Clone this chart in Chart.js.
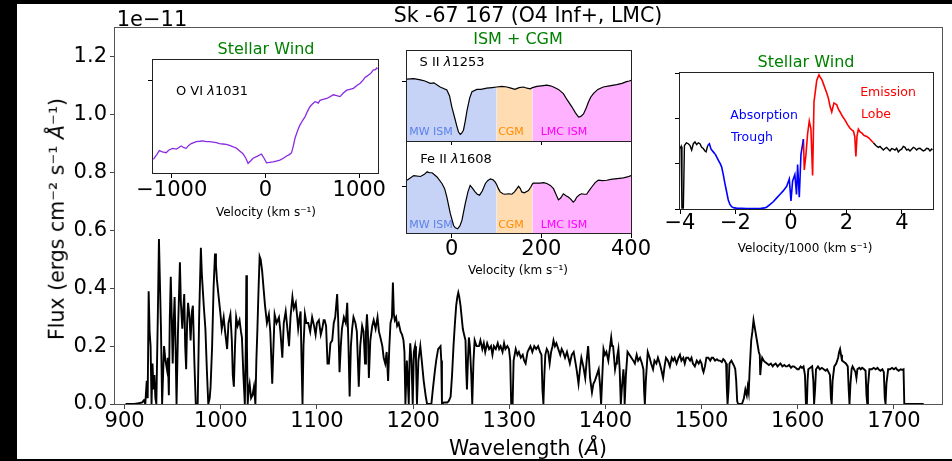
<!DOCTYPE html>
<html lang="en">
<head>
  <meta charset="UTF-8" />
  <title>Sk -67 167 (O4 Inf+, LMC)</title>
  <script src="https://cdn.jsdelivr.net/npm/chart.js"></script>
  <style>
    body { margin: 0; width: 952px; height: 461px; background: #000; overflow: hidden; font-family: "DejaVu Sans", sans-serif; }
    #fig { position: absolute; left: 17px; top: 4px; width: 935px; height: 455px; background: #fff; }
    canvas { position: absolute; }
    .lbl { position: absolute; white-space: nowrap; line-height: 1; transform: translate(-50%, -50%); color: #000; }
    .rot { transform: translate(-50%, -50%) rotate(-90deg); }
    .green { color: #008000; font-size: 16px; }
  </style>
</head>
<body>
  <div id="fig"></div>
  <canvas id="mainChart" width="952" height="461" style="left:0;top:0"></canvas>
  <canvas id="oviChart" width="275" height="170" style="left:125px;top:55px"></canvas>
  <canvas id="siiChart" width="245" height="100" style="left:395px;top:45px"></canvas>
  <canvas id="feiiChart" width="260" height="120" style="left:395px;top:141px"></canvas>
  <canvas id="windChart" width="295" height="170" style="left:655px;top:68px"></canvas>

  <!-- text -->
  <div class="lbl" style="left:528px;top:15px;font-size:20.5px">Sk -67 167 (O4 Inf+, LMC)</div>
  <div class="lbl" style="left:152px;top:19px;font-size:21px">1e&minus;11</div>
  <div class="lbl rot" style="left:57px;top:219px;font-size:20.5px">Flux (ergs cm⁻² s⁻¹ <i>Å</i>⁻¹)</div>
  <div class="lbl" style="left:528px;top:448px;font-size:20.5px">Wavelength (<i>Å</i>)</div>

  <div class="lbl green" style="left:266px;top:49px">Stellar Wind</div>
  <div class="lbl" style="left:212px;top:90px;font-size:13px">O VI <i>λ</i>1031</div>
  <div class="lbl" style="left:266px;top:212px;font-size:12px">Velocity (km s⁻¹)</div>

  <div class="lbl green" style="left:518px;top:39px">ISM + CGM</div>
  <div class="lbl" style="left:452px;top:61px;font-size:13px">S II <i>λ</i>1253</div>
  <div class="lbl" style="left:456px;top:158px;font-size:13px">Fe II <i>λ</i>1608</div>
  <div class="lbl" style="left:431px;top:131px;font-size:11px;color:#5b83e8">MW ISM</div>
  <div class="lbl" style="left:511px;top:131px;font-size:11px;color:#ff8c00">CGM</div>
  <div class="lbl" style="left:564px;top:131px;font-size:11px;color:#ff00ff">LMC ISM</div>
  <div class="lbl" style="left:431px;top:224px;font-size:11px;color:#5b83e8">MW ISM</div>
  <div class="lbl" style="left:511px;top:224px;font-size:11px;color:#ff8c00">CGM</div>
  <div class="lbl" style="left:564px;top:224px;font-size:11px;color:#ff00ff">LMC ISM</div>
  <div class="lbl" style="left:518px;top:270px;font-size:12px">Velocity (km s⁻¹)</div>

  <div class="lbl green" style="left:806px;top:62px">Stellar Wind</div>
  <div class="lbl" style="left:764px;top:115px;font-size:12.5px;color:#0000ff">Absorption</div>
  <div class="lbl" style="left:752px;top:137px;font-size:12.5px;color:#0000ff">Trough</div>
  <div class="lbl" style="left:888px;top:92px;font-size:12.5px;color:#ff0000">Emission</div>
  <div class="lbl" style="left:876px;top:114px;font-size:12.5px;color:#ff0000">Lobe</div>
  <div class="lbl" style="left:805px;top:248px;font-size:12px">Velocity/1000 (km s⁻¹)</div>

  <script>
    // ---- data ----
    // main spectrum: [wavelength (A), flux (1e-11 erg/cm2/s/A)]
    const mainSpectrum = [
      [901,0],[910,0],[915,0.003],[918,0.005],[920,0.013],[921.5,0],[923,0.08],[924,0.02],[925,0.39],[926,0.25],
      [927,0.2],[928,0],[929,0.14],[930,0.05],[931,0.1],[932,0.02],[933,0],[934.5,0.3],[935.7,0.57],[936.5,0.45],
      [937.8,0.26],[939,0],[940,0.1],[941,0.2],[942.5,0.15],[944,0.12],[945,0.16],[946,0.03],[947,0.3],[948,0.44],
      [949,0.3],[950,0.14],[951,0.28],[952,0.37],[953,0.2],[954,0],[955.5,0.25],[957.5,0.49],[958.5,0.35],[960,0.26],
      [961,0.33],[962,0.38],[963,0.2],[964,0.12],[965,0.28],[966,0.35],[967.5,0.3],[968.6,0.22],[970,0.32],[971,0.34],
      [972.5,0.15],[974,0],[976,0],[977.5,0.3],[979.3,0.54],[980.3,0.45],[981.4,0.39],[982.5,0.33],[984,0.26],[985.5,0.12],
      [987,0],[988.5,0.02],[989.4,0.06],[991,0.2],[992.5,0.4],[994,0.52],[995,0.48],[996,0.43],[997.5,0.38],[999.7,0.31],
      [1001,0.26],[1003,0.3],[1004.5,0.25],[1006.6,0.19],[1008,0.28],[1010,0.31],[1011.5,0.22],[1012.5,0.1],[1013.6,0.06],[1014.8,0.2],
      [1016,0.3],[1017.5,0.27],[1019.5,0.29],[1021,0.25],[1022,0.23],[1023.5,0.1],[1025,0],[1026,0.2],[1026.6,0.445],[1027.2,0.2],
      [1028,0],[1029,0.05],[1030,0.07],[1031.5,0.02],[1033,0.03],[1034.5,0.06],[1036,0],[1037,0.15],[1038,0.25],[1039.3,0.4],
      [1040.4,0.51],[1041.5,0.5],[1043,0.46],[1044.5,0.4],[1046,0.34],[1048,0.28],[1050,0.31],[1051.5,0.25],[1053.5,0.07],[1054.8,0.2],
      [1056,0.31],[1058,0.28],[1060.5,0.3],[1062,0.25],[1064,0.16],[1065.5,0.28],[1067.5,0.32],[1069,0.27],[1071,0.2],[1072.5,0.3],
      [1074.5,0.37],[1076,0.33],[1078,0.35],[1079.5,0.3],[1080.5,0.26],[1082,0.3],[1083,0.32],[1084,0.15],[1085,0],[1086,0.2],
      [1087.5,0.31],[1089,0.28],[1091,0.28],[1093,0.25],[1095,0.3],[1097,0.27],[1098.6,0.24],[1100,0.28],[1102,0.29],[1104,0.24],
      [1105.5,0.26],[1107,0.29],[1108,0.29],[1109.5,0.27],[1111,0.14],[1112.4,0.14],[1114,0.21],[1115.9,0.22],[1117.5,0.28],[1119,0.3],
      [1121,0.38],[1122,0.3],[1123.5,0.11],[1124.8,0.2],[1126,0.26],[1128,0.3],[1130,0.28],[1131.5,0.35],[1132.8,0.2],[1134,0.026],
      [1135.3,0.2],[1136.6,0.26],[1138,0.3],[1140,0.28],[1141.5,0.25],[1143.5,0.06],[1145,0.2],[1147,0.27],[1148.5,0.25],[1150,0.14],
      [1151,0.25],[1152,0.31],[1153,0.25],[1154,0.09],[1155.5,0.22],[1157.5,0.27],[1159,0.29],[1161,0.26],[1163,0.3],[1164.5,0.25],
      [1166,0.23],[1168,0.2],[1169.4,0.16],[1171,0.14],[1172.5,0.18],[1174,0.08],[1175.3,0.2],[1176.5,0.28],[1178,0.3],[1179,0.42],
      [1180,0.31],[1181,0.29],[1182.3,0.3],[1183.4,0.27],[1185,0.28],[1187,0.25],[1188.5,0.24],[1190,0.22],[1191,0.18],[1192,0],
      [1193.5,0.15],[1194.5,0.08],[1195.5,0],[1196.3,0.15],[1197,0.21],[1198.3,0.15],[1199.6,0],[1200.8,0.18],[1202,0.2],[1203,0.15],
      [1204,0],[1205.5,0.15],[1207.5,0.2],[1209,0.15],[1211,0.08],[1213,0.03],[1214.5,0],[1219,0],[1220.5,0.05],[1222.5,0.11],
      [1224,0.15],[1226,0.19],[1228.5,0.2],[1229.3,0.15],[1230,0],[1232,0.005],[1235.5,0.005],[1237,0.01],[1239,0.025],[1240.5,0.1],
      [1242,0.2],[1243.5,0.28],[1244.8,0.34],[1246,0.37],[1247,0.385],[1248,0.37],[1249.3,0.34],[1250.5,0.3],[1251.7,0.26],[1253,0.24],
      [1254.5,0.22],[1255.2,0.12],[1256,0.05],[1257,0.15],[1258,0.23],[1259,0.2],[1260.5,0.1],[1261.5,0],[1262.8,0.15],[1264,0.22],
      [1266,0.2],[1268.5,0.2],[1270,0.22],[1272,0.19],[1273.5,0.21],[1275,0.18],[1277,0.21],[1279,0.19],[1281,0.2],[1282.5,0.17],
      [1284,0.2],[1286,0.19],[1288,0.21],[1289.5,0.19],[1291,0.2],[1293,0.18],[1294.6,0.21],[1296,0.19],[1298,0.2],[1299.7,0.19],
      [1301,0.15],[1302,0],[1303.5,0],[1304.5,0.15],[1306.7,0.19],[1308.5,0.17],[1310,0.18],[1312,0.16],[1314,0.17],[1315.5,0.15],
      [1317,0.14],[1319,0.18],[1320.5,0.19],[1322,0.2],[1324,0.18],[1326,0.2],[1328,0.19],[1330,0.2],[1332,0.18],[1333.5,0.17],
      [1334.5,0.05],[1335.5,0],[1336.5,0.1],[1337.5,0.17],[1339,0.19],[1340.5,0.18],[1342,0.14],[1343.5,0.18],[1345,0.2],[1346,0.22],
      [1347.5,0.2],[1349,0.21],[1351,0.19],[1353,0.17],[1354.5,0.19],[1356,0.18],[1358,0.16],[1360,0.18],[1361.5,0.16],[1363,0.14],
      [1365,0.17],[1367,0.18],[1368.5,0.15],[1370,0.12],[1372,0.07],[1373.5,0.12],[1375,0.16],[1377,0.13],[1379,0.09],[1380.5,0.15],
      [1382,0.2],[1383,0.15],[1384,0.09],[1386,0.04],[1387.5,0.07],[1389,0.08],[1391,0.1],[1393,0.12],[1394.5,0.06],[1395.5,0],
      [1396.8,0.1],[1398,0.19],[1399.5,0.17],[1401,0.18],[1403,0.15],[1404.5,0.19],[1406,0.23],[1407,0.2],[1408,0.2],[1409,0.16],
      [1410,0.12],[1411,0.14],[1412,0.16],[1413.5,0.19],[1414.8,0.12],[1416,0],[1417,0.05],[1418.7,0.12],[1419.4,0.08],[1420,0],
      [1421.3,0.1],[1423,0.18],[1425,0.17],[1427,0.16],[1429,0.15],[1430.6,0.14],[1432.5,0.17],[1434,0.15],[1436,0.16],[1438,0.14],
      [1439.5,0.12],[1440.3,0.04],[1441,0],[1442,0.08],[1444,0.18],[1446,0.16],[1447.5,0.14],[1449.5,0.12],[1451,0.15],[1453,0.14],
      [1454.6,0.16],[1456.5,0.14],[1458,0.12],[1460,0.09],[1461.5,0.13],[1463,0.16],[1465,0.15],[1467,0.13],[1469,0.16],[1470.5,0.15],
      [1472,0.16],[1474,0.14],[1476,0.16],[1477.5,0.17],[1479,0.15],[1481,0.16],[1482.5,0.14],[1484,0.16],[1486,0.16],[1488,0.15],
      [1489.5,0.16],[1491,0.14],[1493,0.13],[1495,0.15],[1497,0.14],[1498.5,0.15],[1500,0.14],[1501,0.12],[1502,0.11],[1503.5,0.13],
      [1505,0.16],[1507,0.16],[1509,0.15],[1510.5,0.16],[1512,0.16],[1514,0.15],[1516,0.155],[1517.5,0.15],[1519,0.15],[1521,0.145],
      [1522.5,0.155],[1524,0.15],[1525.5,0.14],[1526.3,0.05],[1527,0],[1528,0.05],[1529,0.14],[1531,0.15],[1532.5,0.14],[1534,0.13],
      [1535,0.12],[1536,0.08],[1537,0.01],[1538,0],[1542,0],[1544,0.02],[1545.5,0.05],[1547,0.03],[1548,0.06],[1549,0.04],
      [1550,0.12],[1551.6,0.22],[1552.8,0.25],[1554,0.29],[1555,0.27],[1556,0.25],[1557,0.23],[1558,0.21],[1559.5,0.18],[1560.5,0.17],
      [1561,0.1],[1562,0.14],[1563,0.16],[1564.6,0.15],[1566,0.145],[1568,0.14],[1570,0.135],[1572,0.14],[1574,0.13],[1575,0.135],
      [1577,0.14],[1579,0.13],[1580.5,0.135],[1582,0.14],[1584,0.13],[1586,0.135],[1587.5,0.13],[1589,0.13],[1591,0.135],[1593,0.125],
      [1594.5,0.13],[1596,0.13],[1598,0.125],[1599.5,0.12],[1601,0.12],[1603,0.13],[1604.5,0.125],[1606,0.13],[1607.5,0.1],[1608.5,0],
      [1609.5,0],[1610.2,0.08],[1611,0.12],[1613,0.125],[1615,0.13],[1616.2,0.08],[1617,0],[1618,0.05],[1619,0.12],[1621,0.13],
      [1623,0.12],[1625,0.125],[1627,0.12],[1629,0.115],[1630.5,0.12],[1632,0.11],[1633.5,0.1],[1634.5,0.02],[1635.3,0],[1636.2,0.08],
      [1638,0.13],[1640,0.14],[1642,0.16],[1643,0.18],[1644,0.19],[1645,0.17],[1646,0.15],[1648,0.145],[1650,0.14],[1652,0.13],
      [1653,0.05],[1653.8,0],[1654.8,0.07],[1656,0.12],[1657,0.13],[1658.5,0.12],[1660,0.11],[1661,0.09],[1662,0.12],[1664,0.125],
      [1665.5,0.12],[1667,0.125],[1669,0.12],[1670.5,0.115],[1671.5,0.03],[1672.3,0],[1673,0.06],[1674.5,0.12],[1677,0.12],[1679,0.125],
      [1681,0.12],[1683,0.125],[1684,0.12],[1686,0.115],[1688,0.12],[1689.5,0.11],[1690.5,0.02],[1691.3,0],[1692.2,0.07],[1694,0.12],
      [1696,0.12],[1698,0.125],[1700,0.12],[1702,0.125],[1703,0.12],[1705,0.115],[1707,0.12],[1709,0.118],[1710,0.12],[1710.8,0],
      [1711.5,0],[1720,0],[1731,0]
    ];
    const mainXTicks = [900, 1000, 1100, 1200, 1300, 1400, 1500, 1600, 1700];
    const mainYTicks = [0, 0.2, 0.4, 0.6, 0.8, 1.0, 1.2];

    // O VI 1031 profile: [velocity km/s, flux]
    const oviProfile = [
      [-1196,0.149],[-1160,0.2],[-1132,0.243],[-1100,0.23],[-1060,0.22],[-1030,0.25],[-989,0.268],[-950,0.26],[-920,0.28],[-899,0.293],
      [-870,0.275],[-846,0.268],[-820,0.3],[-792,0.32],[-765,0.33],[-739,0.34],[-700,0.345],[-668,0.35],[-630,0.34],[-596,0.34],
      [-560,0.335],[-525,0.33],[-490,0.32],[-454,0.315],[-420,0.31],[-382,0.3],[-345,0.285],[-311,0.27],[-275,0.24],[-240,0.21],
      [-210,0.16],[-186,0.105],[-160,0.13],[-133,0.16],[-90,0.18],[-43,0.206],[-15,0.16],[11,0.11],[45,0.115],[81,0.12],
      [115,0.13],[153,0.14],[190,0.16],[225,0.185],[255,0.2],[278,0.22],[296,0.29],[315,0.38],[332,0.43],[350,0.48],
      [367,0.52],[395,0.57],[421,0.61],[448,0.67],[474,0.72],[500,0.75],[528,0.775],[545,0.77],[563,0.76],[581,0.79],
      [615,0.8],[653,0.81],[690,0.83],[724,0.85],[760,0.84],[795,0.83],[830,0.87],[867,0.9],[900,0.91],[938,0.92],
      [975,0.95],[1010,0.975],[1040,1.01],[1063,1.04],[1080,1.05],[1099,1.065],[1120,1.08],[1135,1.1],[1150,1.12],[1170,1.12],
      [1185,1.14],[1195,1.13]
    ];
    const oviTicks = [-1000, 0, 1000];

    // ISM + CGM normalised profiles: [velocity km/s, flux]
    const siiProfile = [
      [-100,1.03],[-85,1.04],[-70,1.02],[-60,1.0],[-48,0.96],[-40,0.97],[-26,0.9],[-11,0.85],[-5,0.75],[0,0.57],
      [6,0.4],[11.5,0.24],[15,0.15],[19,0.11],[22,0.13],[26,0.18],[30,0.33],[34,0.51],[40,0.72],[45,0.82],
      [56,0.86],[65,0.86],[78,0.88],[90,0.89],[100,0.9],[112,0.91],[123,0.9],[132,0.88],[141,0.86],[150,0.89],
      [160,0.9],[168,0.88],[175,0.87],[180,0.89],[190,0.91],[200,0.92],[212,0.93],[220,0.92],[227,0.9],[238,0.86],
      [249,0.79],[258,0.68],[268,0.57],[276,0.47],[283,0.4],[288,0.41],[294,0.45],[300,0.55],[305,0.65],[310,0.73],
      [316,0.79],[326,0.86],[338,0.9],[352,0.92],[368,0.94],[380,0.96],[390,0.99],[396,1.0],[400,1.01]
    ];
    const feiiProfile = [
      [-100,1.13],[-85,1.23],[-70,1.21],[-62,1.25],[-55,1.31],[-50,1.29],[-44,1.29],[-33,1.2],[-22,1.06],[-16,0.95],
      [-11,0.77],[-3.4,0.42],[4,0.16],[8,0.11],[13,0.09],[18,0.15],[22.6,0.27],[30,0.63],[36,0.88],[41,1.02],
      [46,0.96],[52,0.88],[57,0.83],[62,0.81],[68,0.9],[75,1.06],[80,1.12],[86,1.16],[92,1.14],[97,1.09],
      [100,1.04],[104,0.95],[108,0.88],[114,0.84],[119,0.83],[127,0.84],[134,0.83],[140,0.88],[149,1.0],[153,0.95],
      [156,0.88],[162,0.86],[171,0.91],[176,0.98],[180,1.05],[182,1.07],[190,1.07],[197,1.07],[205,1.08],[212,1.06],
      [220,1.02],[227,0.95],[233,0.82],[238,0.71],[243,0.75],[249,0.84],[255,0.8],[260,0.77],[266,0.72],[271,0.66],
      [275,0.7],[279,0.77],[285,0.82],[290,0.84],[296,0.83],[301,0.83],[306,0.9],[312,0.98],[320,1.08],[327,1.13],
      [336,1.12],[346,1.13],[355,1.15],[364,1.16],[374,1.17],[383,1.18],[392,1.2],[400,1.23]
    ];
    const ismBounds = [[-100, 100], [100, 180], [180, 400]];   // MW ISM, CGM, LMC ISM
    const ismTicks = [0, 200, 400];

    // C IV wind profile: [velocity/1000 km/s, flux]
    const windBlackLeft = [
      [-4.0,0.667],[-3.96,0.69],[-3.93,0.01],[-3.88,0.01],[-3.84,0.7],[-3.77,0.73],[-3.7,0.72],[-3.64,0.7],[-3.58,0.65],[-3.52,0.72],
      [-3.46,0.74],[-3.4,0.71],[-3.34,0.73],[-3.28,0.72],[-3.22,0.68],[-3.16,0.667],[-3.1,0.64],[-3.06,0.63],[-3.0,0.7]
    ];
    const windBlue = [
      [-3.0,0.7],[-2.94,0.72],[-2.88,0.66],[-2.8,0.63],[-2.72,0.6],[-2.62,0.54],[-2.55,0.5],[-2.5,0.465],[-2.44,0.38],[-2.38,0.28],
      [-2.32,0.19],[-2.26,0.1],[-2.2,0.05],[-2.14,0.025],[-2.05,0.012],[-1.96,0.01],[-1.6,0.005],[-1.12,0.005],[-0.95,0.012],[-0.88,0.02],
      [-0.75,0.05],[-0.64,0.08],[-0.52,0.12],[-0.4,0.16],[-0.28,0.2],[-0.155,0.25],[-0.06,0.33],[0.0,0.09],[0.06,0.31],[0.14,0.38],
      [0.2,0.16],[0.24,0.49],[0.3,0.13],[0.36,0.6],[0.45,0.77]
    ];
    const windRed = [
      [0.45,0.77],[0.48,0.43],[0.54,0.6],[0.6,0.83],[0.66,0.97],[0.72,0.88],[0.78,0.37],[0.83,1.18],[0.88,1.3],[0.93,1.42],
      [1.01,1.48],[1.06,1.45],[1.11,1.43],[1.17,1.38],[1.23,1.33],[1.29,1.28],[1.35,1.22],[1.41,1.13],[1.47,1.07],[1.55,1.17],
      [1.6,1.16],[1.65,1.15],[1.71,1.1],[1.77,1.07],[1.86,1.02],[1.95,0.98],[2.04,0.93],[2.13,0.89],[2.2,0.87],[2.25,0.86],
      [2.3,0.8],[2.34,0.58],[2.38,0.8],[2.43,0.88],[2.49,0.85],[2.55,0.84],[2.64,0.81],[2.73,0.8],[2.82,0.78],[2.91,0.75],
      [2.97,0.73]
    ];
    const windBlackRight = [
      [2.97,0.73],[3.06,0.7],[3.15,0.68],[3.21,0.69],[3.27,0.67],[3.33,0.65],[3.39,0.667],[3.45,0.68],[3.51,0.66],[3.57,0.64],
      [3.63,0.667],[3.69,0.66],[3.75,0.65],[3.81,0.67],[3.87,0.63],[3.93,0.65],[3.99,0.66],[4.05,0.69],[4.11,0.68],[4.17,0.65],
      [4.23,0.66],[4.29,0.64],[4.35,0.66],[4.41,0.68],[4.47,0.67],[4.53,0.65],[4.59,0.667],[4.65,0.67],[4.71,0.655],[4.77,0.64],
      [4.83,0.65],[4.89,0.67],[4.95,0.665],[5.01,0.64],[5.07,0.66],[5.1,0.65]
    ];
    const windXTicks = [-4, -2, 0, 2, 4];
    const windYTicks = [0, 0.5, 1.0, 1.5];

    // ---- helpers ----
    Chart.defaults.font.family = '"DejaVu Sans", sans-serif';
    Chart.defaults.color = '#000';

    const toXY = p => ({ x: p[0], y: p[1] });
    const minus = v => String(v).replace('-', '\u2212');

    // draws the four spines round the plot area
    const frame = {
      id: 'frame',
      afterDatasetsDraw(chart, args, opts) {
        const a = chart.chartArea, c = chart.ctx;
        const l = Math.round(a.left) - 0.5, t = Math.round(a.top) - 0.5;
        const r = Math.round(a.right) + 0.5, b = Math.round(a.bottom) + 0.5;
        c.save();
        c.strokeStyle = opts.color || '#000';
        c.lineWidth = 1;
        c.strokeRect(l, t, r - l, b - t);
        c.restore();
      }
    };

    function axis(o) {
      return {
        type: 'linear', min: o.min, max: o.max,
        afterBuildTicks: s => { s.ticks = o.ticks.map(v => ({ value: v })); },
        afterFit: s => { if (s.isHorizontal()) s.height = o.size; else s.width = o.size; },
        border: { display: false },
        grid: { drawOnChartArea: false, drawTicks: true, tickLength: 5, color: o.color || '#000' },
        ticks: {
          display: o.labels !== false, autoSkip: false, maxRotation: 0, padding: o.pad || 0,
          font: { size: 21 }, color: '#000', callback: o.fmt || minus
        }
      };
    }

    function line(points, color, width) {
      return { data: points.map(toXY), borderColor: color, borderWidth: width, pointRadius: 0, fill: false, tension: 0 };
    }

    function makeChart(id, datasets, x, y, padding, frameColor) {
      return new Chart(document.getElementById(id), {
        type: 'line',
        data: { datasets },
        options: {
          responsive: false, animation: false, devicePixelRatio: 1,
          layout: { padding },
          plugins: { legend: { display: false }, tooltip: { enabled: false }, frame: { color: frameColor } },
          scales: { x: axis(x), y: axis(y) }
        },
        plugins: [frame]
      });
    }

    // ---- main spectrum ----
    makeChart('mainChart',
      [line(mainSpectrum, '#000', 1.9)],
      { min: 890, max: 1750, ticks: mainXTicks, size: 57, color: '#444' },
      { min: 0, max: 1.3, ticks: mainYTicks, size: 115, pad: 3, color: '#444', fmt: v => v.toFixed(1) },
      { left: 0, top: 28, right: 10, bottom: 0 }, '#555');

    // ---- O VI inset ----
    makeChart('oviChart',
      [line(oviProfile, '#8a2be2', 1.3)],
      { min: -1200, max: 1200, ticks: oviTicks, size: 52 },
      { min: 0, max: 1.228, ticks: [1.0], size: 0, labels: false },
      { left: 28, top: 5, right: 22, bottom: 0 }, '#222');

    // ---- ISM + CGM insets ----
    const ismFills = ['rgba(65,105,225,0.3)', 'rgba(255,140,0,0.3)', 'rgba(255,0,255,0.3)'];
    function ismSets(profile) {
      const regions = ismBounds.map((b, i) => ({
        data: profile.filter(p => p[0] >= b[0] && p[0] <= b[1]).map(toXY),
        backgroundColor: ismFills[i], borderWidth: 0, pointRadius: 0, fill: 'origin', tension: 0
      }));
      return [line(profile, '#000', 1.2)].concat(regions);
    }
    makeChart('siiChart', ismSets(siiProfile),
      { min: -100, max: 400, ticks: ismTicks, size: 4, labels: false },
      { min: 0, max: 1.5, ticks: [1.0], size: 0, labels: false },
      { left: 12, top: 6, right: 9, bottom: 0 }, '#222');
    makeChart('feiiChart', ismSets(feiiProfile),
      { min: -100, max: 400, ticks: ismTicks, size: 28, pad: -1 },
      { min: 0, max: 1.97, ticks: [1.0], size: 0, labels: false },
      { left: 12, top: 0, right: 24, bottom: 0 }, '#222');

    // ---- C IV wind inset ----
    makeChart('windChart',
      [line(windBlackLeft, '#000', 1.4), line(windBlue, '#0000ff', 1.6), line(windRed, '#ff0000', 1.6), line(windBlackRight, '#000', 1.4)],
      { min: -4, max: 5.12, ticks: windXTicks, size: 29, pad: -3 },
      { min: 0, max: 1.5, ticks: windYTicks, size: 0, labels: false },
      { left: 25, top: 5, right: 17, bottom: 0 }, '#222');
  </script>
</body>
</html>
